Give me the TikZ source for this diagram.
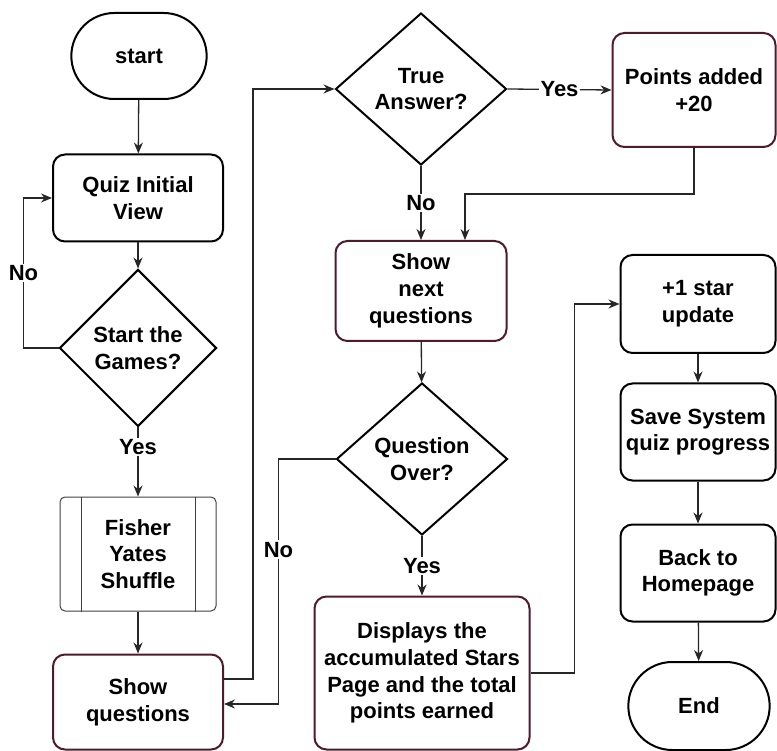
\documentclass[tikz,border=0pt]{standalone}
\usepackage{fontspec}
\setmainfont{Liberation Sans}
\usetikzlibrary{arrows.meta,shapes.geometric,shapes.misc}
\definecolor{maroonline}{RGB}{77,26,46}

\begin{document}
\begin{tikzpicture}[x=1pt,y=-1pt,thick,font=\fontsize{22}{26.7}\selectfont\bfseries]
\tikzset{terminal/.style={rounded rectangle, draw, line width=2pt,
minimum width=142pt, minimum height=86pt, align=center},
box/.style={rectangle, rounded corners=12pt, draw, line width=2pt,
align=center, inner sep=2pt},
mbox/.style={box, draw=maroonline},
decision/.style={diamond, draw, line width=2pt, align=center, inner sep=0pt},
subproc/.style={rectangle, rounded corners=5pt, draw=black!75, line width=1pt,
align=center, minimum width=156pt, minimum height=114pt},
conn/.style={draw=black!85, line width=1.3pt, -{Stealth[length=11pt,width=9pt]}},
lbl/.style={fill=white, inner sep=1.5pt},
}
\useasboundingbox (0,0) rectangle (777,751);

\node[terminal] (start) at (139,56) {start};
\node[box, minimum width=170pt, minimum height=87pt] (initview) at (138,198) {Quiz Initial\\View};
\node[decision, minimum width=157pt, minimum height=157pt] (startgame) at (138,348) {Start the\\Games?};
\node[subproc] (shuffle) at (138,554) {Fisher\\Yates\\Shuffle};
\draw[draw=black!75, line width=1pt] ([xshift=22pt]shuffle.north west) -- ([xshift=22pt]shuffle.south west)
([xshift=-21pt]shuffle.north east) -- ([xshift=-21pt]shuffle.south east);
\node[mbox, minimum width=170pt, minimum height=95pt] (showq) at (138,702) {Show\\questions};

\node[decision, minimum width=171pt, minimum height=152pt] (trueans) at (421,89) {True\\Answer?};
\node[mbox, minimum width=163pt, minimum height=114pt] (points) at (694,90) {Points added\\+20};
\node[mbox, minimum width=171pt, minimum height=100pt] (nextq) at (421,291) {Show\\next\\questions};
\node[decision, minimum width=171pt, minimum height=152pt] (qover) at (422,459) {Question\\Over?};
\node[mbox, minimum width=215pt, minimum height=153pt] (results) at (422,673)
{Displays the\\accumulated Stars\\Page and the total\\points earned};

\node[box, minimum width=155pt, minimum height=98pt] (star) at (698,304) {+1 star\\update};
\node[box, minimum width=155pt, minimum height=97pt] (save) at (698,432) {Save System\\quiz progress};
\node[box, minimum width=155pt, minimum height=97pt] (home) at (698,573) {Back to\\Homepage};
\node[terminal, minimum width=148pt, minimum height=88pt] (finish) at (699,706) {End};

\draw[conn] (start) -- (initview);
\draw[conn] (initview) -- (startgame);
\draw[conn] (startgame.west) -- ++(-35,0) |- node[lbl,pos=0.25]{No} (initview.west);
\draw[conn] (startgame.south) -- node[lbl,pos=0.28]{Yes} (shuffle.north);
\draw[conn] (shuffle) -- (showq);
\draw[conn] ([yshift=23pt]showq.east) -- ++(29,0) |- (trueans.west);
\draw[conn] (trueans.east) -- node[lbl]{Yes} (points.west);
\draw[conn] (trueans.south) -- node[lbl]{No} (nextq.north);
\draw[conn] (points.south) -- ++(0,46) -| ([xshift=44pt]nextq.north);
\draw[conn] (nextq) -- (qover);
\draw[conn] (qover.west) -- ++(-57,0) |- node[lbl,pos=0.185]{No} ([yshift=-2pt]showq.east);
\draw[conn] (qover.south) -- node[lbl]{Yes} (results.north);
\draw[conn] (results.east) -- ++(44,0) |- (star.west);
\draw[conn] (star) -- (save);
\draw[conn] (save) -- (home);
\draw[conn] (home) -- (finish);
\end{tikzpicture}
\end{document}
